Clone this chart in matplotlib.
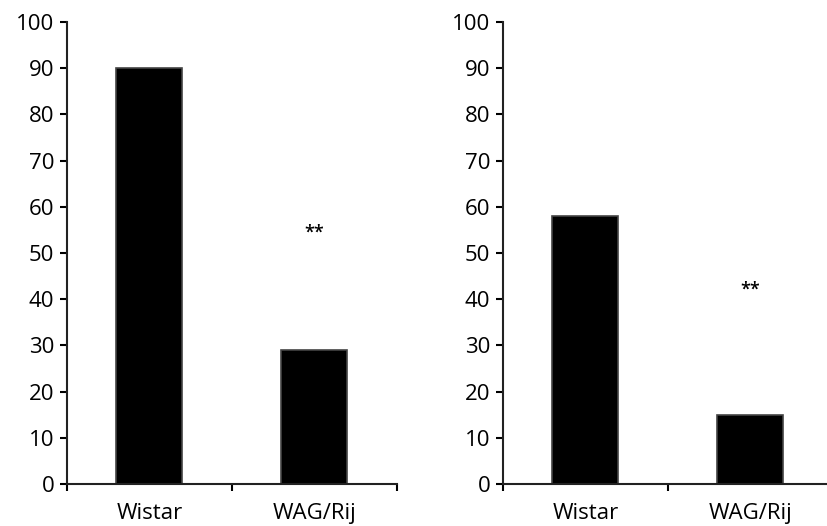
import matplotlib.pyplot as plt

# values
groups = ['Wistar', 'WAG/Rij']
left_vals = [90, 29]
right_vals = [58, 15]
# height of the significance stars, in axis units
left_star = 54.5
right_star = 42

plt.rcParams['font.family'] = ['Open Sans', 'DejaVu Sans']

fig = plt.figure(figsize=(8.28, 5.26), dpi=100)
ax1 = fig.add_axes([67 / 828, 42 / 526, 330 / 828, 462 / 526])
ax2 = fig.add_axes([503 / 828, 42 / 526, 330 / 828, 462 / 526])


def panel(ax, vals, star_y):
    x = range(len(groups))
    ax.bar(x, vals, width=0.4, color='black', edgecolor='#444444', linewidth=1.2)
    ax.text(1, star_y, '**', ha='center', va='center', fontsize=13, fontweight='semibold')
    ax.set_xlim(-0.5, 1.5)
    ax.set_ylim(0, 100)
    ax.set_yticks(range(0, 101, 10))
    ax.set_xticks([-0.5, 0.5, 1.5])
    ax.set_xticklabels([])
    ax.set_xticks(list(x), minor=True)
    ax.set_xticklabels(groups, minor=True)
    ax.tick_params(axis='x', which='minor', length=0, pad=14, labelsize=16)
    ax.tick_params(axis='x', which='major', length=5, width=1.5, direction='out')
    ax.tick_params(axis='y', length=5, width=1.5, labelsize=16, pad=4)
    for s in ['top', 'right']:
        ax.spines[s].set_visible(False)
    for s in ['left', 'bottom']:
        ax.spines[s].set_linewidth(1.5)
        ax.spines[s].set_color('#222222')


panel(ax1, left_vals, left_star)
panel(ax2, right_vals, right_star)

fig.savefig('out.png', dpi=100)
